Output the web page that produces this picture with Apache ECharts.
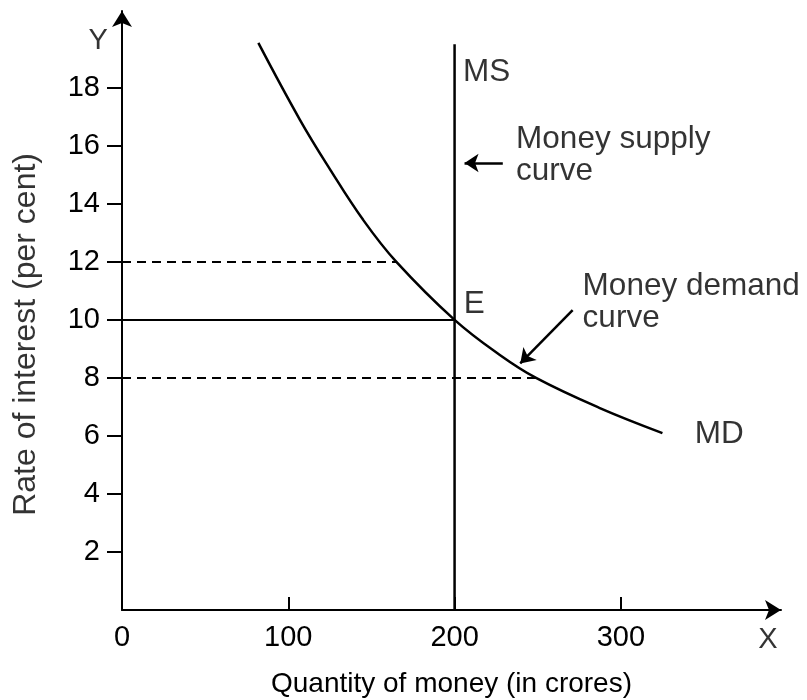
<!DOCTYPE html>
<html>
<head>
<meta charset="utf-8">
<script src="https://cdn.jsdelivr.net/npm/echarts@6/dist/echarts.min.js"></script>
<style>
  html, body { margin: 0; padding: 0; background: #fff; }
  #chart { width: 807px; height: 700px; }
</style>
</head>
<body>
<div id="chart"></div>
<script>
// money demand curve (quantity in crores, rate in per cent)
var mdQuantity = [82, 107, 125, 145, 165, 200, 227, 249, 287, 325];
var mdRate = [19.55, 16.9, 15.2, 13.45, 12, 10, 8.8, 8, 6.97, 6.1];

// money supply (vertical) and reference rates
var msQuantity = 200;
var msTop = 19.5;
var eqRate = 10;
var highRate = 12, highQty = 165;
var lowRate = 8, lowQty = 249;

// ticks
var xTicks = [100, 200, 300];
var xLabels = [0, 100, 200, 300];
var yTicks = [2, 4, 6, 8, 10, 12, 14, 16, 18];

var FONT = '"Liberation Sans", Arial, sans-serif';
var FS = 29;     // tick labels
var NOTE_FS = 31.5; // annotations

(function () {
	var myChart = echarts.init(document.getElementById('chart'));

	var mdData = mdQuantity.map(function (q, i) { return [q, mdRate[i]]; });

	// text annotations, placed in data coordinates
	var notes = [
		{ value: [205, 18.55], text: 'MS' },
		{ value: [237, 15.69], text: 'Money supply\ncurve' },
		{ value: [205.5, 10.55], text: 'E' },
		{ value: [277, 10.62], text: 'Money demand\ncurve' },
		{ value: [344.5, 6.05], text: 'MD' },
		{ value: [-14.4, 19.6], text: 'Y', align: 'center', size: FS },
		{ value: [388.5, -1.03], text: 'X', align: 'center', size: FS },
		{ value: [-57.7, 9.5], text: 'Rate of interest (per cent)', align: 'center', rotate: 90, size: 32 }
	];

	var black = '#000';
	var option = {
		animation: false,
		backgroundColor: '#fff',
		textStyle: { fontFamily: FONT, color: black },
		grid: { left: 122, right: 26, top: 11, bottom: 90, outerBoundsMode: 'none', containLabel: false },
		xAxis: {
			type: 'value',
			min: 0,
			max: 396.3,
			name: 'Quantity of money (in crores)',
			nameLocation: 'middle',
			nameGap: 60,
			nameTextStyle: { fontSize: 28, color: black, fontFamily: FONT },
			axisLine: {
				lineStyle: { color: black, width: 2 },
				symbol: ['none', 'arrow'],
				symbolSize: [15, 16]
			},
			axisTick: { inside: true, length: 13, customValues: xTicks, lineStyle: { color: black, width: 2 } },
			axisLabel: { customValues: xLabels, fontSize: FS, color: black, fontFamily: FONT, margin: 13 },
			splitLine: { show: false }
		},
		yAxis: {
			type: 'value',
			min: 0,
			max: 20.65,
			axisLine: {
				lineStyle: { color: black, width: 2 },
				symbol: ['none', 'arrow'],
				symbolSize: [15, 16]
			},
			axisTick: { length: 15, customValues: yTicks, lineStyle: { color: black, width: 2 } },
			axisLabel: { customValues: yTicks, fontSize: FS, color: black, fontFamily: FONT, margin: 22 },
			splitLine: { show: false }
		},
		series: [
			{
				name: 'MD',
				type: 'line',
				data: mdData,
				smooth: 0.4,
				symbol: 'none',
				lineStyle: { color: black, width: 2.5 }
			},
			{
				name: 'MS',
				type: 'line',
				data: [[msQuantity, 0], [msQuantity, msTop]],
				symbol: 'none',
				lineStyle: { color: black, width: 2.5 },
				markLine: {
					silent: true,
					symbol: ['none', 'arrow'],
					symbolSize: 14,
					label: { show: false },
					lineStyle: { color: black, width: 2.5, type: 'solid' },
					data: [
						[{ coord: [229, 15.41] }, { coord: [206, 15.41] }],
						[{ coord: [271, 10.34] }, { coord: [239.5, 8.5] }]
					]
				}
			},
			{
				type: 'line',
				data: [[0, eqRate], [msQuantity, eqRate]],
				symbol: 'none',
				lineStyle: { color: black, width: 2 }
			},
			{
				type: 'line',
				data: [[0, highRate], [highQty, highRate]],
				symbol: 'none',
				lineStyle: { color: black, width: 2, type: [9, 6] }
			},
			{
				type: 'line',
				data: [[0, lowRate], [lowQty, lowRate]],
				symbol: 'none',
				lineStyle: { color: black, width: 2, type: [9, 6] }
			},
			{
				type: 'scatter',
				symbolSize: 0,
				clip: false,
				silent: true,
				data: notes.map(function (n) {
					return {
						value: n.value,
						label: {
							show: true,
							position: 'inside',
							formatter: n.text,
							align: n.align || 'left',
							verticalAlign: 'middle',
							rotate: n.rotate || 0,
							fontSize: n.size || NOTE_FS,
							lineHeight: 32,
							color: black,
							textBorderWidth: 0,
							fontFamily: FONT
						}
					};
				})
			}
		]
	};
	myChart.setOption(option);
})();
</script>
</body>
</html>
